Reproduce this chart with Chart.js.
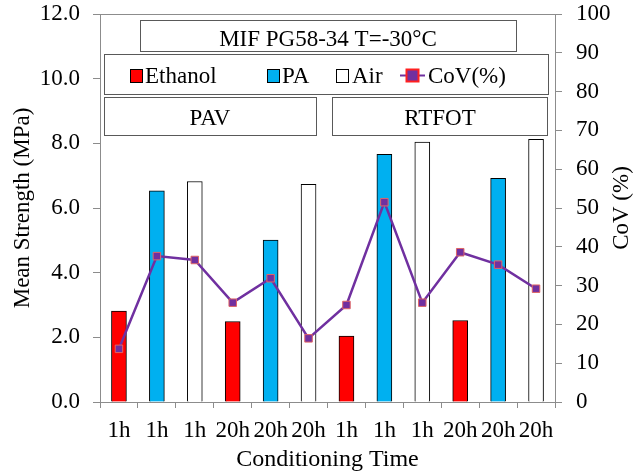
<!DOCTYPE html>
<html>
<head>
<meta charset="utf-8">
<script src="https://cdn.jsdelivr.net/npm/chart.js@4/dist/chart.umd.min.js"></script>
<style>
  html, body { margin: 0; padding: 0; background: #fff; }
  #wrap { width: 642px; height: 473px; }
</style>
</head>
<body>
<div id="wrap"><canvas id="chart" width="642" height="473"></canvas></div>
<script>
// Values.
const labels = ['1h', '1h', '1h', '20h', '20h', '20h', '1h', '1h', '1h', '20h', '20h', '20h'];
const ethanol = [2.81, null, null, 2.49, null, null, 2.04, null, null, 2.52, null, null];
const pa = [null, 6.53, null, null, 5.01, null, null, 7.66, null, null, 6.92, null];
const air = [null, null, 6.82, null, null, 6.73, null, null, 8.04, null, null, 8.12];
const cov = [13.7, 37.6, 36.6, 25.6, 31.9, 16.4, 25.0, 51.5, 25.6, 38.6, 35.4, 29.2];
const strengthTicks = [0, 2, 4, 6, 8, 10, 12];
const covTicks = [0, 10, 20, 30, 40, 50, 60, 70, 80, 90, 100];

const FONT = "'Liberation Serif', 'Times New Roman', serif";
const AXIS_GREY = '#8c8c8c';
const BOX_GREY = '#595959';

Chart.defaults.font.family = FONT;
Chart.defaults.font.size = 23;
Chart.defaults.color = '#000';

// Title box, legend box, PAV / RTFOT group boxes and the right axis title.
const boxesPlugin = {
  id: 'boxes',
  afterDatasetsDraw(chart) {
    const { ctx, chartArea } = chart;
    ctx.save();

    // top frame line of the plot area
    ctx.strokeStyle = AXIS_GREY;
    ctx.lineWidth = 1;
    ctx.beginPath();
    ctx.moveTo(chartArea.left - 7, chartArea.top + 0.5);
    ctx.lineTo(chartArea.right + 7, chartArea.top + 0.5);
    ctx.stroke();

    const box = (x, y, w, h) => {
      ctx.fillStyle = '#fff';
      ctx.fillRect(x, y, w, h);
      ctx.strokeStyle = BOX_GREY;
      ctx.lineWidth = 1;
      ctx.strokeRect(x + 0.5, y + 0.5, w, h);
    };

    ctx.font = `23px ${FONT}`;
    ctx.fillStyle = '#000';
    ctx.textBaseline = 'alphabetic';

    box(140, 20, 376, 31);
    ctx.fillStyle = '#000';
    ctx.textAlign = 'center';
    ctx.fillText('MIF PG58-34 T=-30°C', 328, 46);

    box(104, 54, 444, 40);
    box(104, 97, 212, 38);
    box(332, 97, 215, 38);
    ctx.fillStyle = '#000';
    ctx.fillText('PAV', 210, 125);
    ctx.fillText('RTFOT', 440, 125);

    // legend entries
    const ds = chart.data.datasets;
    const swatch = (x, d) => {
      ctx.fillStyle = d.backgroundColor;
      ctx.fillRect(x, 69, 12, 13);
      ctx.strokeStyle = '#000';
      ctx.lineWidth = 1;
      ctx.strokeRect(x + 0.5, 69.5, 12, 13);
    };
    ctx.textAlign = 'left';
    swatch(130, ds[0]);
    ctx.fillStyle = '#000';
    ctx.fillText(ds[0].label, 145, 83);
    swatch(267, ds[1]);
    ctx.fillStyle = '#000';
    ctx.fillText(ds[1].label, 282, 83);
    swatch(336, ds[2]);
    ctx.fillStyle = '#000';
    ctx.fillText(ds[2].label, 352, 83);

    const line = ds[3];
    ctx.strokeStyle = line.borderColor;
    ctx.lineWidth = 2;
    ctx.beginPath();
    ctx.moveTo(400, 75.5);
    ctx.lineTo(425, 75.5);
    ctx.stroke();
    ctx.fillStyle = line.pointBackgroundColor;
    ctx.fillRect(406, 69, 13, 13);
    ctx.strokeStyle = '#ff2020';
    ctx.strokeRect(406.5, 69.5, 12, 12);
    ctx.fillStyle = '#000';
    ctx.fillText(line.label, 428, 83);

    // right axis title, reading bottom to top like the left one
    ctx.translate(622, (chartArea.top + chartArea.bottom) / 2);
    ctx.rotate(-Math.PI / 2);
    ctx.textAlign = 'center';
    ctx.textBaseline = 'middle';
    ctx.fillText('CoV (%)', 0, 0);

    ctx.restore();
  }
};

const barStyle = {
  borderColor: '#000',
  borderWidth: 1,
  barThickness: 15,
  skipNull: true,
  order: 2,
};

// fixed axis box sizes; tick padding must not push the plot area down
const fixWidth = (w) => (s) => {
  s.width = w;
  s.paddingTop = 0;
  s.paddingBottom = 0;
};

new Chart(document.getElementById('chart'), {
  type: 'bar',
  data: {
    labels: labels,
    datasets: [
      { ...barStyle, label: 'Ethanol', data: ethanol, backgroundColor: '#ff0000' },
      { ...barStyle, label: 'PA', data: pa, backgroundColor: '#00b0f0' },
      { ...barStyle, label: 'Air', data: air, backgroundColor: '#ffffff' },
      {
        type: 'line',
        label: 'CoV(%)',
        data: cov,
        yAxisID: 'y1',
        borderColor: '#7030a0',
        borderWidth: 2.5,
        pointStyle: 'rect',
        pointRadius: 5.3,
        pointBackgroundColor: '#7030a0',
        pointBorderColor: '#e06666',
        pointBorderWidth: 1,
        tension: 0,
        order: 0,
      },
    ],
  },
  options: {
    responsive: false,
    animation: false,
    layout: { padding: { top: 14, left: 0, right: 0, bottom: 0 } },
    plugins: {
      legend: { display: false },
      tooltip: { enabled: false },
    },
    scales: {
      x: {
        offset: true,
        grid: { offset: true, drawOnChartArea: false, tickLength: 6, color: AXIS_GREY },
        border: { color: AXIS_GREY },
        ticks: { autoSkip: false, maxRotation: 0, minRotation: 0, padding: 9 },
        title: {
          display: true,
          text: 'Conditioning Time',
          font: { size: 24 },
          padding: { top: 0, bottom: -1 },
        },
        afterFit: (s) => { s.height = 71; },
      },
      y: {
        position: 'left',
        min: 0,
        max: 12,
        afterBuildTicks: (s) => { s.ticks = strengthTicks.map((v) => ({ value: v })); },
        grid: { drawOnChartArea: false, tickLength: 7, color: AXIS_GREY },
        border: { color: AXIS_GREY },
        ticks: { padding: 13, callback: (v) => v.toFixed(1) },
        title: { display: true, text: 'Mean Strength (MPa)', padding: { top: 9, bottom: 0 } },
        afterFit: fixWidth(100),
      },
      y1: {
        position: 'right',
        min: 0,
        max: 100,
        afterBuildTicks: (s) => { s.ticks = covTicks.map((v) => ({ value: v })); },
        grid: { drawOnChartArea: false, tickLength: 7, color: AXIS_GREY },
        border: { color: AXIS_GREY },
        ticks: { padding: 14 },
        title: { display: false },
        afterFit: fixWidth(87),
      },
    },
  },
  plugins: [boxesPlugin],
});
</script>
</body>
</html>
